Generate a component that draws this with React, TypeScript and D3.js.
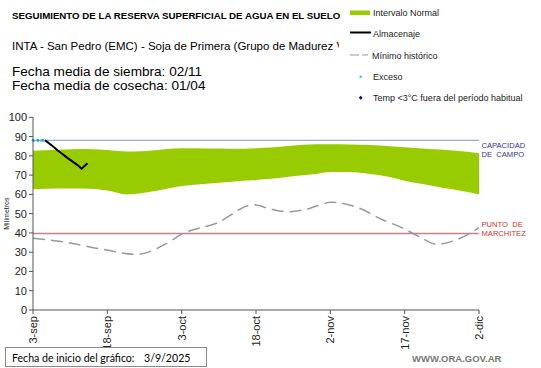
import React from 'react'
import * as d3 from 'd3'

// days since 3-sep
const bandDays = [0, 5, 10, 15, 19, 24, 30, 35, 40, 45, 48, 52, 57, 60, 64, 68, 72, 75, 78, 82, 86, 90]
const bandTop = [82.7, 83.2, 83.5, 83, 82.2, 82.8, 83.9, 83.8, 83.7, 84, 84.3, 85.2, 86, 86, 85.9, 85.6, 85, 84.4, 84, 83.3, 82.5, 81.3]
const bandLow = [62.6, 63, 63.1, 62, 60, 61.5, 64.3, 65.5, 66.6, 67.5, 68.1, 69.3, 70.6, 71.6, 71.6, 70.6, 69, 67.1, 65.6, 63.7, 62, 60]

const minDays = [0, 7, 14, 21, 27, 30, 37, 44.5, 47.8, 51.2, 54.6, 60.3, 66.7, 70, 74.7, 78, 81.5, 86, 90]
const minVals = [37.2, 35, 31.5, 28.9, 34.6, 39.4, 45, 54.6, 52.5, 51, 51.9, 55.9, 51.9, 47.5, 42.4, 38, 34.1, 37, 42.7]

const almDays = [2.4, 3, 4, 5, 6, 7, 8, 9, 9.8, 11]
const almVals = [88, 87, 85, 82.8, 80.8, 78.8, 77, 75.2, 73.3, 76.1]

const excesoDays = [0, 1, 2]
const excesoVals = [88, 88, 88]

const xTickDays = [0, 15, 30, 45, 60, 75, 90]
const xTickLabels = ['3-sep', '18-sep', '3-oct', '18-oct', '2-nov', '17-nov', '2-dic']
const yTicks = [0, 10, 20, 30, 40, 50, 60, 70, 80, 90, 100]

const capacidad = 88
const marchitez = 39.7

const FONT = 'Arial, "Liberation Sans", Helvetica, sans-serif'
const FOOT_FONT = 'Lato, "Open Sans", sans-serif'

const App = () => {
  const x = d3.scaleLinear().domain([0, 90]).range([33, 479])
  const y = d3.scaleLinear().domain([0, 100]).range([310, 117.3])

  const band = bandDays.map((d, i) => ({ d, top: bandTop[i], low: bandLow[i] }))
  const area = d3
    .area<{ d: number; top: number; low: number }>()
    .x((p) => x(p.d))
    .y0((p) => y(p.low))
    .y1((p) => y(p.top))
    .curve(d3.curveMonotoneX)

  const line = d3
    .line<[number, number]>()
    .x((p) => x(p[0]))
    .y((p) => y(p[1]))

  const minPath = line.curve(d3.curveMonotoneX)(minDays.map((d, i) => [d, minVals[i]]))
  const almPath = d3
    .line<[number, number]>()
    .x((p) => x(p[0]))
    .y((p) => y(p[1]))(almDays.map((d, i) => [d, almVals[i]]))
  const excPath = d3
    .line<[number, number]>()
    .x((p) => x(p[0]))
    .y((p) => y(p[1]))(excesoDays.map((d, i) => [d, excesoVals[i]]))

  return (
    <svg width={541} height={368} style={{ position: 'absolute', left: 0, top: 0, background: '#fff' }} fontFamily={FONT}>
      <defs>
        <clipPath id="subclip">
          <rect x={0} y={30} width={339} height={30} />
        </clipPath>
      </defs>

      {/* header */}
      <text x={12} y={19} fontSize={9.7} fontWeight="bold" fill="#000">
        SEGUIMIENTO DE LA RESERVA SUPERFICIAL DE AGUA EN EL SUELO
      </text>
      <text x={12} y={49.5} fontSize={11.5} fill="#000" clipPath="url(#subclip)">
        INTA - San Pedro (EMC) - Soja de Primera (Grupo de Madurez V)
      </text>
      <text x={12} y={76} fontSize={13.6} fill="#000">Fecha media de siembra: 02/11</text>
      <text x={12} y={89.5} fontSize={13.6} fill="#000">Fecha media de cosecha: 01/04</text>

      {/* legend */}
      <g fontSize={9} fill="#222">
        <rect x={350} y={10.5} width={20} height={4.5} fill="#99CC00" />
        <text x={373} y={15.5}>Intervalo Normal</text>
        <line x1={350} x2={371} y1={32.5} y2={32.5} stroke="#000" strokeWidth={2} />
        <text x={373} y={36.5}>Almacenaje</text>
        <line x1={350} x2={368} y1={55} y2={55} stroke="#999" strokeWidth={1} strokeDasharray="9,3" />
        <text x={372} y={58.5}>Mínimo histórico</text>
        <circle cx={360.7} cy={76.7} r={1.3} fill="#33CCCC" />
        <text x={373} y={80}>Exceso</text>
        <path d="M360.7,95.8 L362.6,97.8 L360.7,99.8 L358.8,97.8 Z" fill="#000099" />
        <text x={373} y={101}>Temp &lt;3°C fuera del período habitual</text>
      </g>

      {/* band */}
      <path d={area(band) ?? ''} fill="#99CC00" />

      {/* reference lines */}
      <line x1={x(0)} x2={x(90)} y1={y(capacidad)} y2={y(capacidad)} stroke="#9AADCC" strokeWidth={1.3} />
      <line x1={x(0)} x2={x(90)} y1={y(marchitez)} y2={y(marchitez)} stroke="#CC7F7F" strokeWidth={1.3} />

      {/* min historic */}
      <path d={minPath ?? ''} fill="none" stroke="#999" strokeWidth={1.5} strokeDasharray="12,6" />

      {/* almacenaje */}
      <path d={almPath ?? ''} fill="none" stroke="#000" strokeWidth={2} />
      <path d={excPath ?? ''} fill="none" stroke="#33CCCC" strokeWidth={2} strokeDasharray="2,1.5" />
      {excesoDays.map((d, i) => (
        <circle key={d} cx={x(d)} cy={y(excesoVals[i])} r={1.4} fill="#1AA3D4" />
      ))}

      {/* right labels */}
      <g fontSize={7.6} fill="#333399">
        <text x={481.5} y={148}>CAPACIDAD</text>
        <text x={481.5} y={157}>DE&#160;&#160;CAMPO</text>
      </g>
      <g fontSize={7.6} fill="#CC3333">
        <text x={481.5} y={227}>PUNTO&#160;&#160;DE</text>
        <text x={481.5} y={235.5}>MARCHITEZ</text>
      </g>

      {/* axes */}
      <g stroke="#555" strokeWidth={1}>
        <line x1={x(0)} x2={x(0)} y1={y(100)} y2={y(0)} />
        <line x1={x(0)} x2={x(90)} y1={y(0)} y2={y(0)} />
        {yTicks.map((t) => (
          <line key={t} x1={x(0) - 4} x2={x(0)} y1={y(t)} y2={y(t)} />
        ))}
        {xTickDays.map((t) => (
          <line key={t} x1={x(t)} x2={x(t)} y1={y(0)} y2={y(0) + 4} />
        ))}
      </g>
      <g fontSize={11} fill="#222" textAnchor="end">
        {yTicks.map((t) => (
          <text key={t} x={27} y={y(t) + 4}>
            {t}
          </text>
        ))}
      </g>
      <g fontSize={11} fill="#222" textAnchor="end">
        {xTickDays.map((t, i) => (
          <text key={t} transform={`translate(${x(t) + 4},${y(0) + 6}) rotate(-90)`}>
            {xTickLabels[i]}
          </text>
        ))}
      </g>
      <text transform={`translate(9,${y(50)}) rotate(-90)`} fontSize={7} textAnchor="middle" fill="#222">
        Milímetros
      </text>

      {/* footer */}
      <rect x={5.5} y={347.5} width={201} height={19} fill="#fff" stroke="#8a8a8a" strokeWidth={1} />
      <text x={12} y={361.5} fontSize={10.6} fill="#000" fontFamily={FOOT_FONT}>
        Fecha de inicio del gráfico:
      </text>
      <text x={144} y={361.5} fontSize={10.6} fill="#000" fontFamily={FOOT_FONT}>
        3/9/2025
      </text>
      <text x={412} y={362} fontSize={9.5} fontWeight="bold" fill="#777">
        WWW.ORA.GOV.AR
      </text>
    </svg>
  )
}

export default App
